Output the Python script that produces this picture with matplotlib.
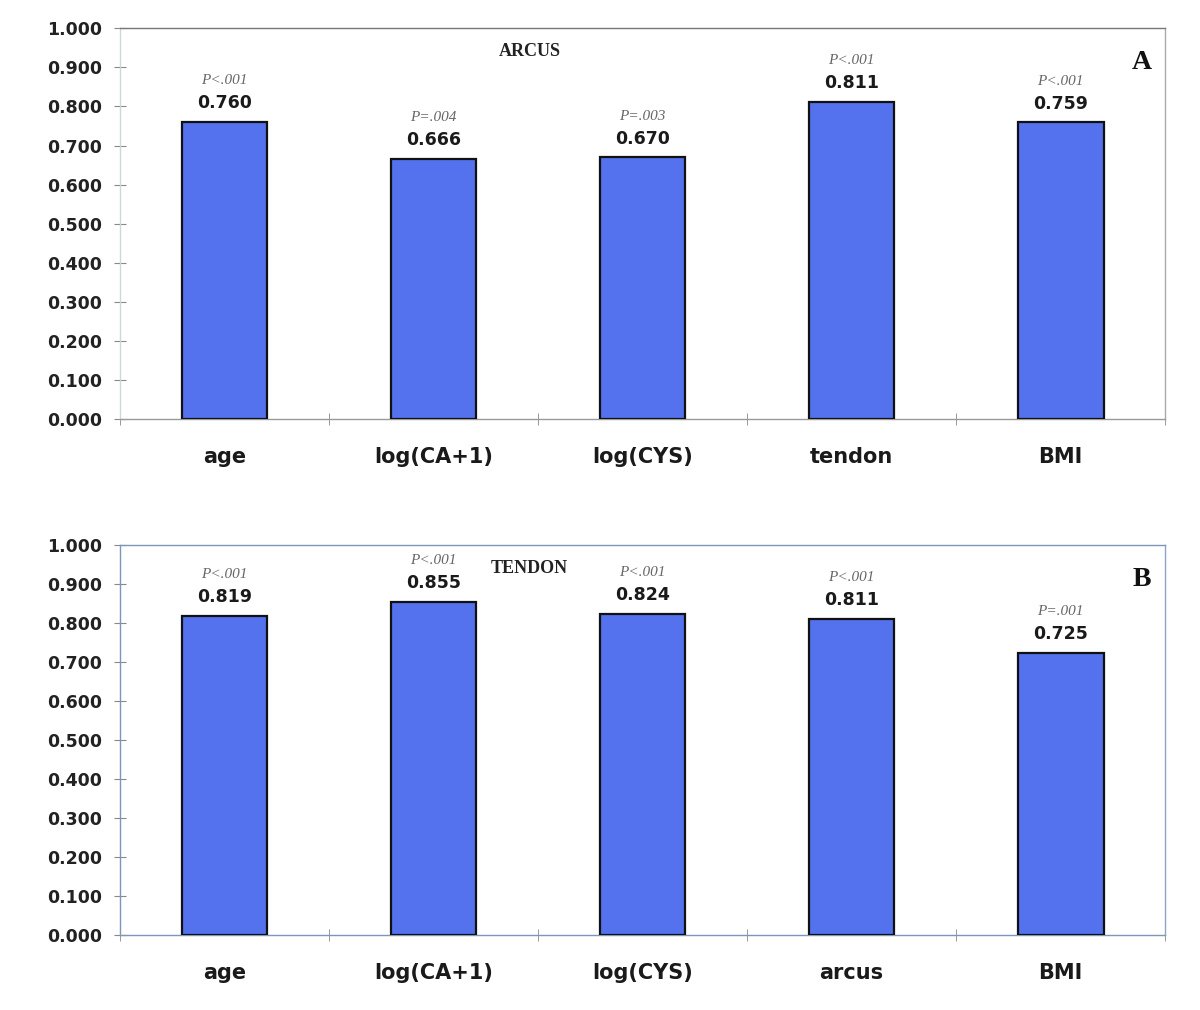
import matplotlib
matplotlib.use("Agg")
import matplotlib.pyplot as plt
import numpy as np

# panel A: arcus
arcus_labels = ["age", "log(CA+1)", "log(CYS)", "tendon", "BMI"]
arcus_values = [0.760, 0.666, 0.670, 0.811, 0.759]
arcus_p = ["P<.001", "P=.004", "P=.003", "P<.001", "P<.001"]

# panel B: tendon
tendon_labels = ["age", "log(CA+1)", "log(CYS)", "arcus", "BMI"]
tendon_values = [0.819, 0.855, 0.824, 0.811, 0.725]
tendon_p = ["P<.001", "P<.001", "P<.001", "P<.001", "P=.001"]

yticks = np.arange(0, 1.0001, 0.1)

BAR_COLOR = "#5471ee"
SANS = ["DejaVu Sans"]
SERIF = ["Liberation Serif", "DejaVu Serif"]


def panel(ax, labels, values, pvals, title, letter, frame):
    x = np.arange(len(labels))
    ax.bar(x, values, width=0.41, color=BAR_COLOR, edgecolor="#111111", linewidth=1.6, zorder=3)
    ax.set_xlim(-0.5, len(labels) - 0.5)
    ax.set_ylim(0, 1.0)
    ax.set_yticks(yticks)
    ax.set_yticklabels([f"{v:.3f}" for v in yticks], fontsize=12.5, fontweight="bold",
                       family=SANS, color="#222222")
    ax.set_xticks(x)
    ax.set_xticklabels(labels, fontsize=15, fontweight="bold", family=SANS, color="#1a1a1a")
    ax.tick_params(axis="x", which="major", length=0, pad=20)
    ax.set_xticks(np.arange(len(labels) + 1) - 0.5, minor=True)
    ax.tick_params(axis="x", which="minor", length=8, direction="inout", color="#888888")
    ax.tick_params(axis="y", length=8, direction="inout", color="#888888", pad=9)
    for side, c in frame.items():
        ax.spines[side].set_color(c)
        ax.spines[side].set_linewidth(1.0)

    for xi, v, p in zip(x, values, pvals):
        ax.annotate(f"{v:.3f}", (xi, v), xytext=(0, 7), textcoords="offset points",
                    ha="center", va="bottom", fontsize=12.5, fontweight="bold",
                    family=SANS, color="#1a1a1a")
        ax.annotate(p, (xi, v), xytext=(0, 25), textcoords="offset points",
                    ha="center", va="bottom", fontsize=11, style="italic",
                    family=SERIF, color="#666666")

    ax.text(1.46, 0.94, title, ha="center", va="center", fontsize=13,
            fontweight="bold", family=SERIF, color="#222222")
    ax.text(4.39, 0.913, letter, ha="center", va="center", fontsize=20,
            fontweight="bold", family=SERIF, color="#111111")


fig = plt.figure(figsize=(12, 10.1), dpi=100)
ax_a = fig.add_axes([0.1, 0.585, 0.871, 0.387])
ax_b = fig.add_axes([0.1, 0.074, 0.871, 0.386])

panel(ax_a, arcus_labels, arcus_values, arcus_p, "ARCUS", "A",
      {"left": "#c8dcd4", "top": "#777777", "right": "#aaaaaa", "bottom": "#999999"})
panel(ax_b, tendon_labels, tendon_values, tendon_p, "TENDON", "B",
      {"left": "#7d97b8", "top": "#7d97b8", "right": "#8ea6c4", "bottom": "#7d97b8"})

fig.savefig("out.png", dpi=100)
